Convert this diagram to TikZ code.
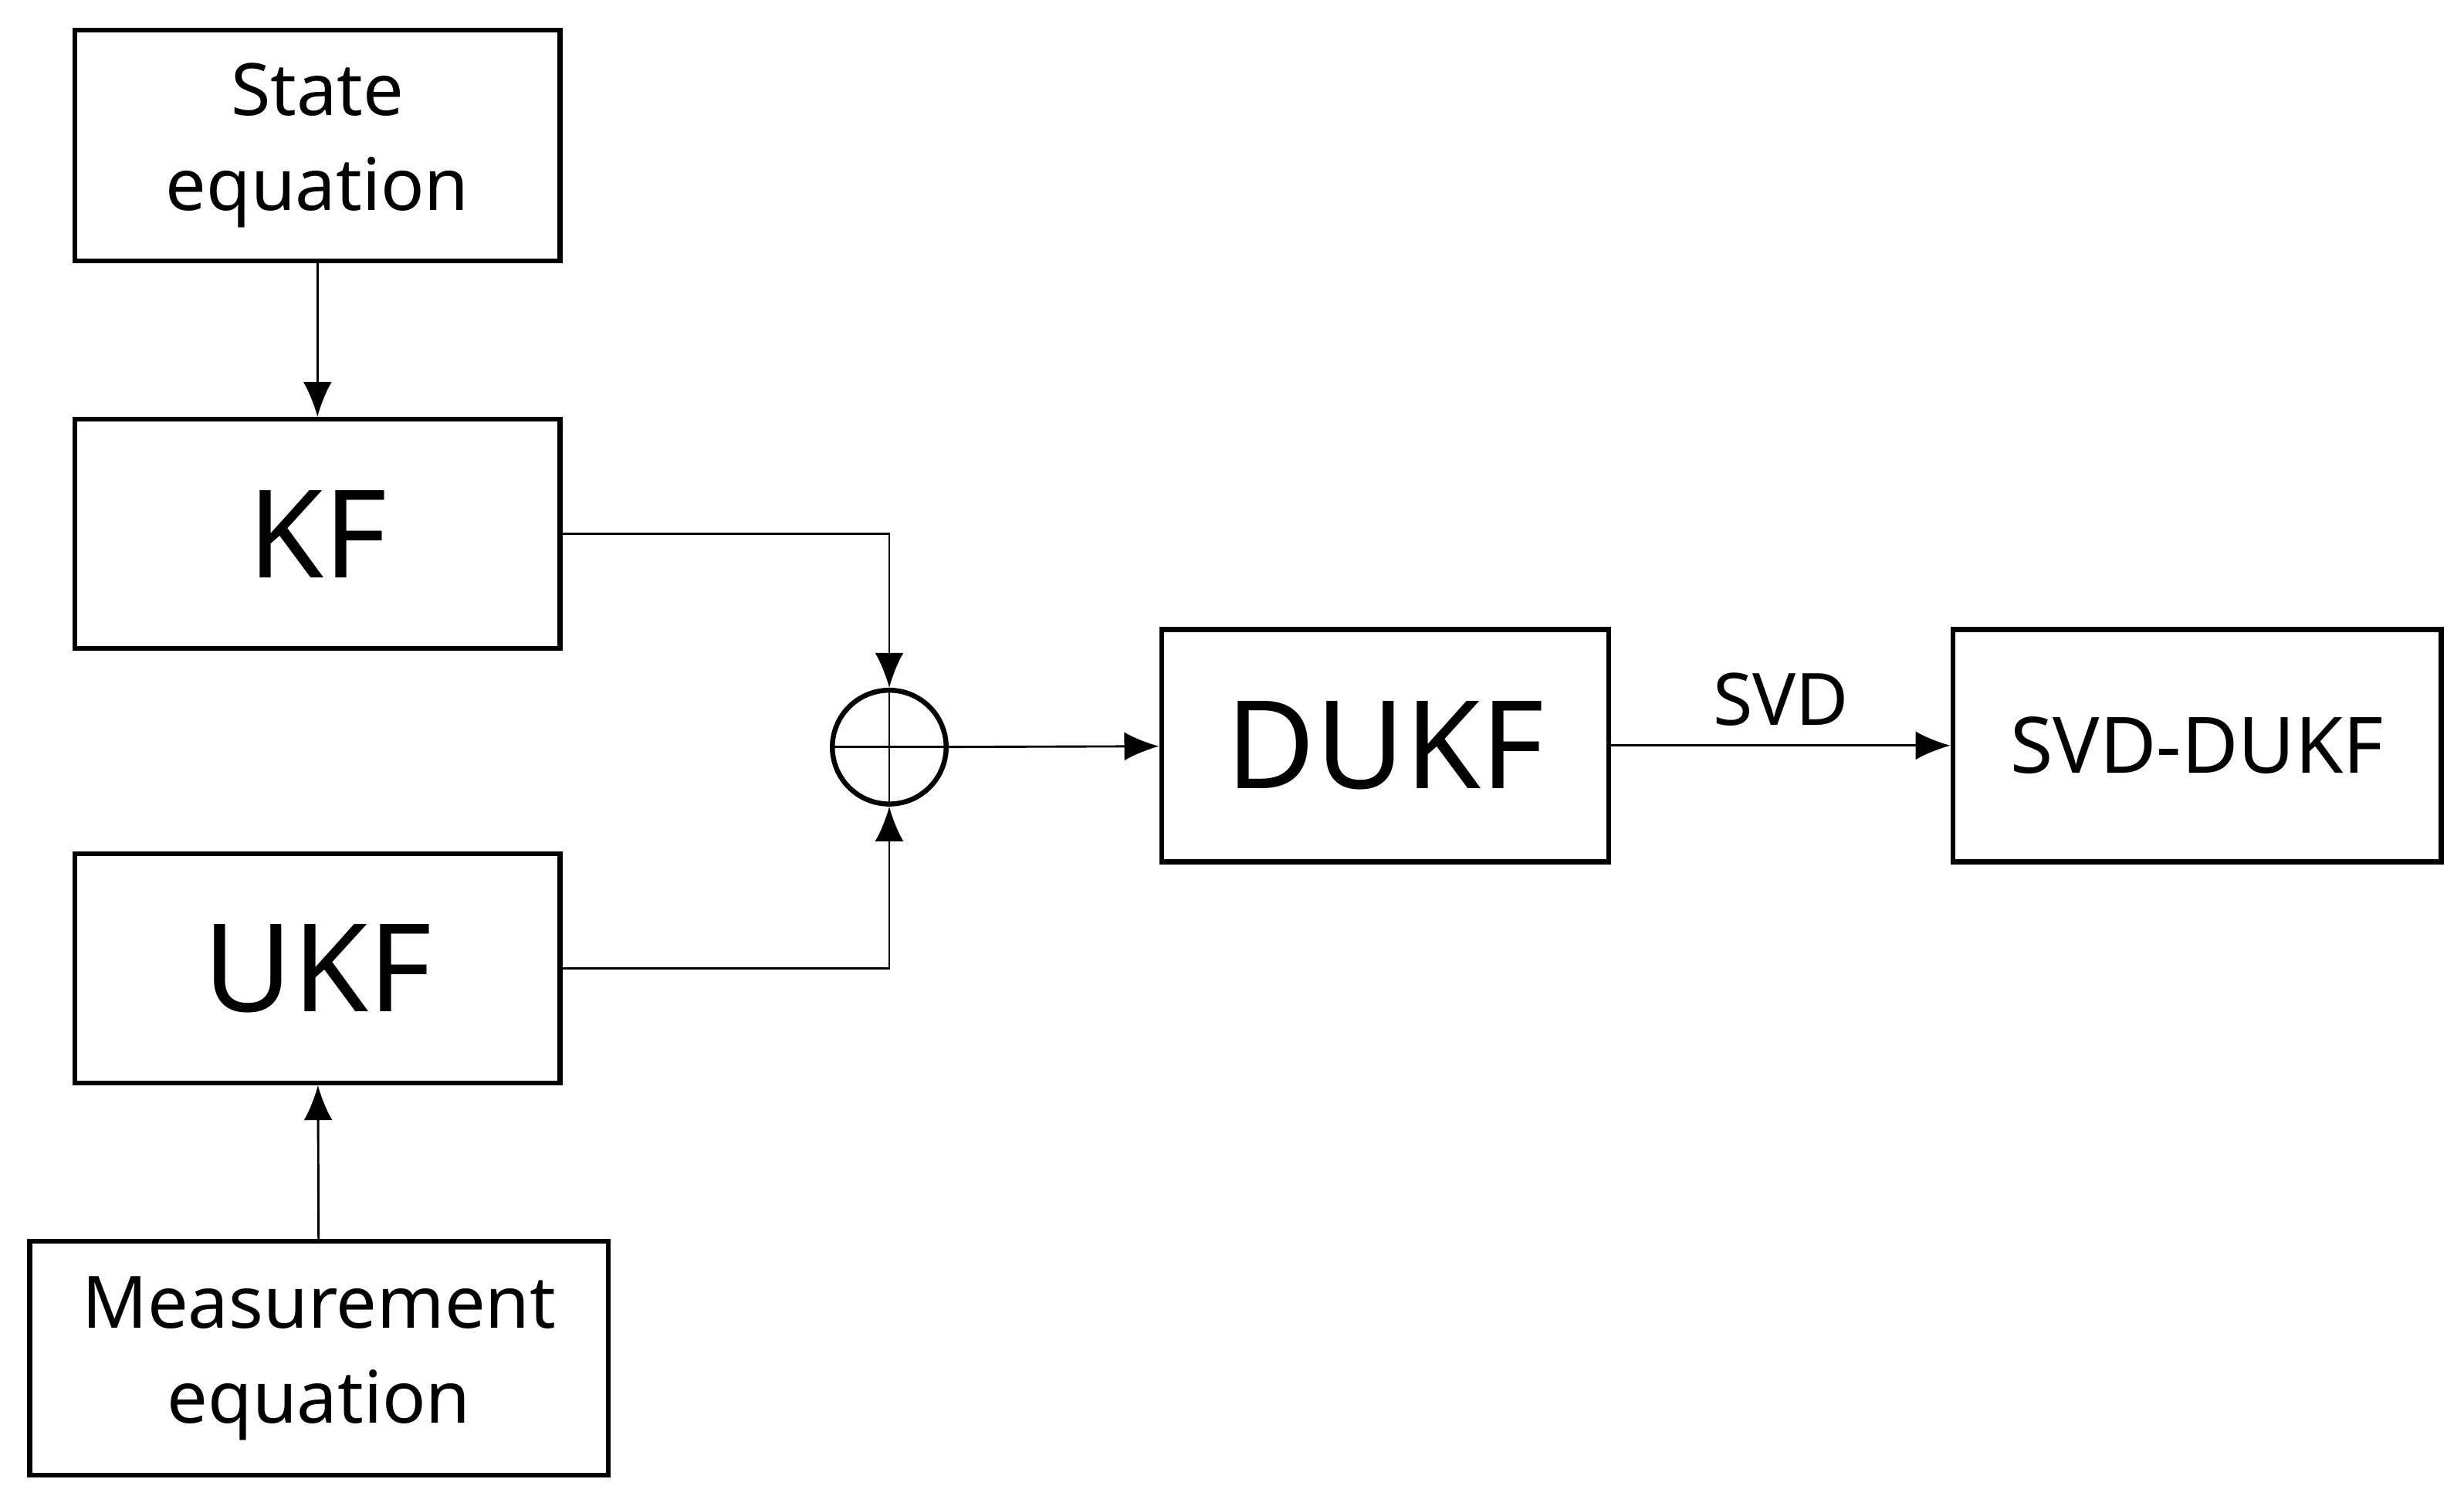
\documentclass[tikz,border=0pt]{standalone}
\usepackage{fontspec}
\setmainfont{Noto Sans}
\usetikzlibrary{arrows.meta}
\begin{document}
\begin{tikzpicture}[x=0.01cm,y=-0.01cm,
     block/.style = {draw, rectangle, line width=0.9pt, align=center, inner sep=0pt},
     sum/.style = {draw, circle, line width=0.9pt, minimum size=0.72cm, inner sep=0pt},
     arrow/.style = {draw, line width=0.4pt, -{Latex[length=2.2mm,width=1.8mm]}}
    ]
    \useasboundingbox (0,0) rectangle (1560,947);

    \node [block, minimum width=3.07cm, minimum height=1.46cm, font=\fontsize{13}{17}\selectfont] (state) at (201,92) {State\\equation};
    \node [block, minimum width=3.07cm, minimum height=1.45cm, font=\fontsize{22}{26}\selectfont] (KF) at (201,338) {KF};
    \node [block, minimum width=3.07cm, minimum height=1.45cm, font=\fontsize{22}{26}\selectfont] (UKF) at (201,613) {UKF};
    \node [block, minimum width=3.66cm, minimum height=1.48cm, font=\fontsize{13}{17}\selectfont] (meas) at (202,860) {Measurement\\equation};
    \node [sum] (fsum) at (563,473) {};
    \node [block, minimum width=2.83cm, minimum height=1.47cm, font=\fontsize{22}{26}\selectfont] (DUKF) at (877,472) {DUKF};
    \node [block, minimum width=3.09cm, minimum height=1.47cm, font=\fontsize{14}{17}\selectfont] (SVDDUKF) at (1391,472) {SVD-DUKF};

    \draw [line width=0.4pt] (fsum.north) -- (fsum.south) (fsum.west) -- (fsum.east);
    \draw [arrow] (state) -- (KF);
    \draw [arrow] (meas) -- (UKF);
    \draw [arrow] (KF.east) -| (fsum.north);
    \draw [arrow] (UKF.east) -| (fsum.south);
    \draw [arrow] (fsum) -- (DUKF);
    \draw [arrow] (DUKF) -- node [above, font=\fontsize{13}{16}\selectfont] {SVD} (SVDDUKF);

\end{tikzpicture}
\end{document}
